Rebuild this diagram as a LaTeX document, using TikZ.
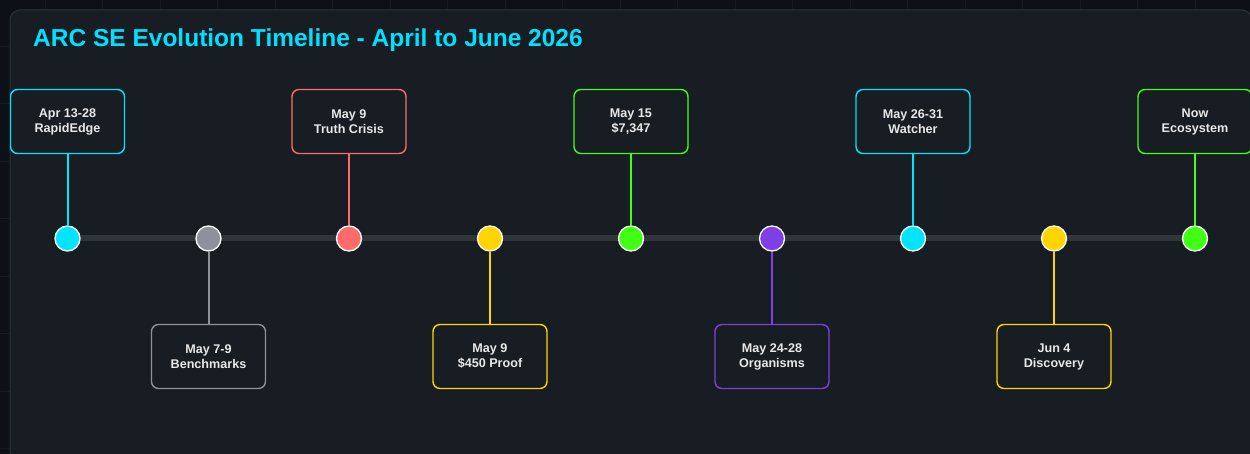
\documentclass[tikz,border=0pt]{standalone}
\usepackage{fontspec}
\setmainfont{Liberation Sans}
\pgfdeclarelayer{bg}
\pgfdeclarelayer{mid}
\pgfsetlayers{bg,mid,main}
\definecolor{outerbg}{HTML}{0D1117}
\definecolor{gridc}{HTML}{161B22}
\definecolor{panelbg}{HTML}{181C23}
\definecolor{panelbd}{HTML}{2D323A}
\definecolor{trackc}{HTML}{30343B}
\definecolor{titlec}{HTML}{00E1FF}
\definecolor{txtc}{HTML}{E8E8E8}
\definecolor{ccyan}{HTML}{00E5FF}
\definecolor{cgrey}{HTML}{8B929B}
\definecolor{cred}{HTML}{FF6B6B}
\definecolor{cyellow}{HTML}{FFD500}
\definecolor{cgreen}{HTML}{40FF14}
\definecolor{cpurple}{HTML}{7E40E6}
\tikzset{
  eventbox/.style={draw=#1, line width=1.4pt, rounded corners=7pt, fill=panelbg,
    minimum width=114pt, minimum height=64pt, inner sep=0pt, align=center,
    text=txtc, font=\bfseries\fontsize{12.6}{15}\selectfont},
  dot/.style={circle, fill=#1, draw=white, line width=1.3pt, minimum size=25pt, inner sep=0pt},
  link/.style={draw=#1, line width=2pt},
}
\begin{document}
\begin{tikzpicture}[x=1pt,y=-1pt]
\useasboundingbox (0,0) rectangle (1250,454);
\begin{pgfonlayer}{bg}
\fill[outerbg] (0,0) rectangle (1250,454);
\foreach \i in {0,...,22} \draw[gridc, line width=0.8pt] ({-12.5+57.5*\i},0) -- ({-12.5+57.5*\i},454);
\foreach \i in {0,...,8} \draw[gridc, line width=0.8pt] (0,{-11.5+57.5*\i}) -- (1250,{-11.5+57.5*\i});
\draw[panelbd, fill=panelbg, line width=1pt, rounded corners=10pt] (10,10) rectangle (1252,475);
\end{pgfonlayer}

\node[anchor=base west, text=titlec, font=\bfseries\fontsize{24.5}{28}\selectfont, inner sep=0pt] (title) at (33,46.5) {ARC SE Evolution Timeline - April to June 2026};

% dots
\node[dot=ccyan]   (d1) at (67.5,238.5) {};
\node[dot=cgrey]   (d2) at (208.5,238.5) {};
\node[dot=cred]    (d3) at (349,238.5) {};
\node[dot=cyellow] (d4) at (490,238.5) {};
\node[dot=cgreen]  (d5) at (631,238.5) {};
\node[dot=cpurple] (d6) at (772,238.5) {};
\node[dot=ccyan]   (d7) at (913,238.5) {};
\node[dot=cyellow] (d8) at (1054,238.5) {};
\node[dot=cgreen]  (d9) at (1195,238.5) {};

% boxes
\node[eventbox=ccyan]   (b1) at (67.5,121.5) {Apr 13-28\\RapidEdge};
\node[eventbox=cgrey]   (b2) at (208.5,356.5) {May 7-9\\Benchmarks};
\node[eventbox=cred]    (b3) at (349,121.5) {May 9\\Truth Crisis};
\node[eventbox=cyellow] (b4) at (490,356.5) {May 9\\\$450 Proof};
\node[eventbox=cgreen]  (b5) at (631,121.5) {May 15\\\$7,347};
\node[eventbox=cpurple] (b6) at (772,356.5) {May 24-28\\Organisms};
\node[eventbox=ccyan]   (b7) at (913,121.5) {May 26-31\\Watcher};
\node[eventbox=cyellow] (b8) at (1054,356.5) {Jun 4\\Discovery};
\node[eventbox=cgreen]  (b9) at (1195,121.5) {Now\\Ecosystem};

\begin{pgfonlayer}{mid}
\draw[trackc, line width=6pt] (d1.center) -- (d9.center);
\end{pgfonlayer}

\draw[link=ccyan]   (b1.south) -- (d1.north);
\draw[link=cgrey]   (b2.north) -- (d2.south);
\draw[link=cred]    (b3.south) -- (d3.north);
\draw[link=cyellow] (b4.north) -- (d4.south);
\draw[link=cgreen]  (b5.south) -- (d5.north);
\draw[link=cpurple] (b6.north) -- (d6.south);
\draw[link=ccyan]   (b7.south) -- (d7.north);
\draw[link=cyellow] (b8.north) -- (d8.south);
\draw[link=cgreen]  (b9.south) -- (d9.north);
\end{tikzpicture}
\end{document}
